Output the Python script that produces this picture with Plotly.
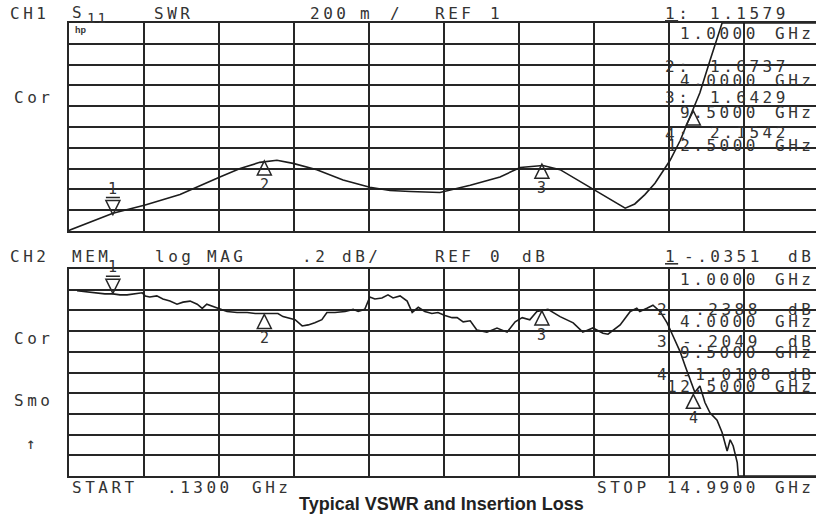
import plotly.graph_objects as go

# ---------------- data ----------------
START_GHZ = 0.13
STOP_GHZ = 14.99

swr_freq = [0.13, 0.15, 1.00, 1.64, 2.33, 2.73, 3.12, 3.52, 3.91, 4.25, 4.57, 5.04, 5.56,
            6.09, 6.49, 6.89, 7.48, 8.08, 8.67, 9.07, 9.52, 9.86, 10.45, 10.85, 11.15,
            11.34, 11.54, 11.74, 12.04, 12.24, 12.44, 12.63, 12.83, 13.07, 14.99]
swr_val = [1.00, 1.01, 1.17, 1.25, 1.35, 1.44, 1.52, 1.60, 1.66, 1.68, 1.65, 1.59, 1.49,
           1.42, 1.39, 1.38, 1.37, 1.44, 1.52, 1.61, 1.63, 1.59, 1.42, 1.30, 1.22,
           1.26, 1.35, 1.46, 1.68, 1.87, 2.11, 2.33, 2.64, 3.00, 3.00]

il_freq = [0.29, 0.49, 0.68, 0.84, 1.00, 1.14, 1.28, 1.44, 1.58, 1.64, 1.73, 1.87, 1.99,
           2.13, 2.27, 2.39, 2.53, 2.67, 2.77, 2.86, 2.98, 3.12, 3.26, 3.46, 3.66, 3.82,
           4.07, 4.27, 4.37, 4.47, 4.61, 4.75, 4.87, 5.00, 5.14, 5.24, 5.40, 5.60, 5.76,
           5.86, 5.99, 6.09, 6.19, 6.33, 6.45, 6.55, 6.69, 6.83, 6.93, 7.05, 7.18, 7.32,
           7.44, 7.58, 7.72, 7.82, 7.94, 8.08, 8.21, 8.41, 8.61, 8.81, 8.97, 9.11, 9.26,
           9.40, 9.62, 9.86, 10.12, 10.31, 10.51, 10.71, 10.81, 11.05, 11.25, 11.38, 11.44,
           11.58, 11.70, 11.84, 11.98, 12.10, 12.24, 12.34, 12.44, 12.53, 12.63, 12.73,
           12.83, 12.97, 13.07, 13.17, 13.23, 13.29, 13.37, 13.39, 14.99]
il_db = [-0.01, -0.02, -0.03, -0.04, -0.04, -0.05, -0.05, -0.04, -0.03, -0.06, -0.07, -0.06,
         -0.09, -0.11, -0.14, -0.12, -0.11, -0.14, -0.18, -0.14, -0.16, -0.19, -0.21, -0.22,
         -0.22, -0.23, -0.23, -0.23, -0.26, -0.27, -0.29, -0.35, -0.34, -0.32, -0.29, -0.22,
         -0.22, -0.21, -0.19, -0.21, -0.19, -0.07, -0.09, -0.08, -0.05, -0.08, -0.06, -0.11,
         -0.22, -0.17, -0.21, -0.23, -0.22, -0.25, -0.27, -0.27, -0.31, -0.30, -0.39, -0.41,
         -0.37, -0.41, -0.31, -0.27, -0.29, -0.21, -0.19, -0.26, -0.32, -0.41, -0.37, -0.42,
         -0.43, -0.34, -0.21, -0.18, -0.21, -0.18, -0.15, -0.21, -0.32, -0.45, -0.60, -0.74,
         -0.87, -0.99, -0.93, -1.09, -1.19, -1.26, -1.38, -1.56, -1.45, -1.51, -1.67, -1.80,
         -1.80]

marker_freq = [1.0, 4.0, 9.5, 12.5]
swr_marker_val = [1.1579, 1.6737, 1.6429, 2.1542]
il_marker_val = [-0.0351, -0.2388, -0.2049, -1.0108]

# ---------------- layout helpers ----------------
W, H = 816, 514
GRID_L, TOP_T, TOP_B, BOT_T, BOT_B = 69, 23, 231, 269, 476
DIV = (STOP_GHZ - START_GHZ) / 10
x_end = START_GHZ + DIV * (W - GRID_L) / 75.0
RIGHT = 816

INK = "#262626"
MONO = "DejaVu Sans Mono"

fig = go.Figure()
fig.add_trace(go.Scatter(x=swr_freq, y=swr_val, mode="lines", xaxis="x", yaxis="y",
                         line=dict(color="#1c1c1c", width=1.6), hoverinfo="skip"))
fig.add_trace(go.Scatter(x=il_freq, y=il_db, mode="lines", xaxis="x2", yaxis="y2",
                         line=dict(color="#1c1c1c", width=1.6), hoverinfo="skip"))

ax_common = dict(showgrid=True, gridcolor=INK, gridwidth=1.5, showticklabels=False,
                 ticks="", zeroline=False, showline=True, linecolor=INK, linewidth=1.5)
fig.update_layout(
    width=W, height=H, margin=dict(l=0, r=0, t=0, b=0),
    paper_bgcolor="white", plot_bgcolor="white", showlegend=False,
    xaxis=dict(domain=[GRID_L / W, 1], range=[START_GHZ, x_end], tick0=START_GHZ,
               dtick=DIV, anchor="y", mirror=True, **ax_common),
    yaxis=dict(domain=[1 - TOP_B / H, 1 - TOP_T / H], range=[1, 3], tick0=1, dtick=0.2,
               anchor="x", **ax_common),
    xaxis2=dict(domain=[GRID_L / W, 1], range=[START_GHZ, x_end], tick0=START_GHZ,
                dtick=DIV, anchor="y2", mirror=True, **ax_common),
    yaxis2=dict(domain=[1 - BOT_B / H, 1 - BOT_T / H], range=[-1.8, 0.2], tick0=0,
                dtick=0.2, anchor="x2", **ax_common),
)

annots = []


def txt(s, x, y, anchor="left", size=16, family=MONO, color="#333333", spacing=3.5):
    if spacing:
        s = "<span style='letter-spacing:%spx'>%s</span>" % (spacing, s)
    annots.append(dict(text=s, x=x / W, y=1 - y / H, xref="paper", yref="paper",
                       xanchor=anchor, yanchor="middle", showarrow=False,
                       font=dict(family=family, size=size, color=color)))


# top header
txt("CH1", 8, 13); txt("S", 70, 12); txt("11", 85, 18, size=14, spacing=2)
txt("SWR", 152, 13); txt("200", 308, 13); txt("m", 358, 13); txt("/", 388, 13)
txt("REF", 433, 13); txt("1", 488, 13)
txt("<u>1</u>:", 663, 13); txt("1.1579", 708, 13)
txt("1.0000", 678, 34); txt("GHz", RIGHT, 34, anchor="right")
txt("2:", 663, 67); txt("1.6737", 708, 67); txt("4.0000", 678, 80); txt("GHz", RIGHT, 80, anchor="right")
txt("3:", 663, 97); txt("1.6429", 708, 97); txt("9.5000", 678, 112); txt("GHz", RIGHT, 112, anchor="right")
txt("4:", 663, 135); txt("2.1542", 708, 133); txt("12.5000", 665, 145); txt("GHz", RIGHT, 145, anchor="right")
txt("<b>hp</b>", 73, 30, size=9, family="Liberation Sans", spacing=0)
txt("Cor", 12, 97)

# bottom header
txt("CH2", 8, 256); txt("MEM", 70, 256); txt("log", 153, 256); txt("MAG", 205, 256)
txt(".2", 300, 256); txt("dB/", 340, 256); txt("REF", 433, 256); txt("0", 488, 256)
txt("dB", 520, 256)
txt("<u>1</u>", 663, 256); txt("-.0351", 682, 256); txt("dB", RIGHT, 256, anchor="right")
txt("1.0000", 678, 279); txt("GHz", RIGHT, 279, anchor="right")
txt("2", 655, 309); txt("-.2388", 680, 309); txt("dB", RIGHT, 309, anchor="right")
txt("4.0000", 678, 321); txt("GHz", RIGHT, 321, anchor="right")
txt("3", 655, 341); txt("-.2049", 680, 341); txt("dB", RIGHT, 341, anchor="right")
txt("9.5000", 678, 352); txt("GHz", RIGHT, 352, anchor="right")
txt("4", 655, 374); txt("-1.0108", 680, 374); txt("dB", RIGHT, 374, anchor="right")
txt("12.5000", 665, 386); txt("GHz", RIGHT, 386, anchor="right")
txt("Cor", 12, 338); txt("Smo", 12, 400); txt("↑", 24, 443)
txt("START", 70, 487); txt(".1300", 165, 487); txt("GHz", 250, 487)
txt("STOP", 595, 487); txt("14.9900", 665, 487); txt("GHz", RIGHT, 487, anchor="right")
txt("<b>Typical VSWR and Insertion Loss</b>", 442, 504, anchor="center", size=18,
    family="Liberation Sans", color="#222222", spacing=0)

# markers
shapes = []
DOWN = "M0,0 L-7,14 L7,14 Z M-7,17 L7,17"
UP = "M0,0 L-7,-14 L7,-14 Z"
for i, (f, v1, v2) in enumerate(zip(marker_freq, swr_marker_val, il_marker_val)):
    for xr, yr, v in (("x", "y", v1), ("x2", "y2", v2)):
        shapes.append(dict(type="path", xref=xr, yref=yr, xsizemode="pixel",
                           ysizemode="pixel", xanchor=f, yanchor=v,
                           path=DOWN if i == 0 else UP,
                           line=dict(color=INK, width=1.5)))
        if not (i == 3 and xr == "x"):
            annots.append(dict(text=str(i + 1), x=f, y=v, xref=xr, yref=yr,
                               showarrow=False, yshift=26 if i == 0 else -24,
                               font=dict(family=MONO, size=15, color="#333333")))
# reference-line pointer
shapes.append(dict(type="path", xref="x", yref="y", xsizemode="pixel", ysizemode="pixel",
                   xanchor=START_GHZ, yanchor=1, path="M-7,0 L-7,-4 L-1,0 L-7,4 Z",
                   line=dict(color=INK, width=1.2)))

fig.update_layout(annotations=annots, shapes=shapes)
fig.write_html("out.html", config={"displayModeBar": False},
               post_script="document.body.style.margin='0px';"
                           "document.body.style.overflow='hidden';")
